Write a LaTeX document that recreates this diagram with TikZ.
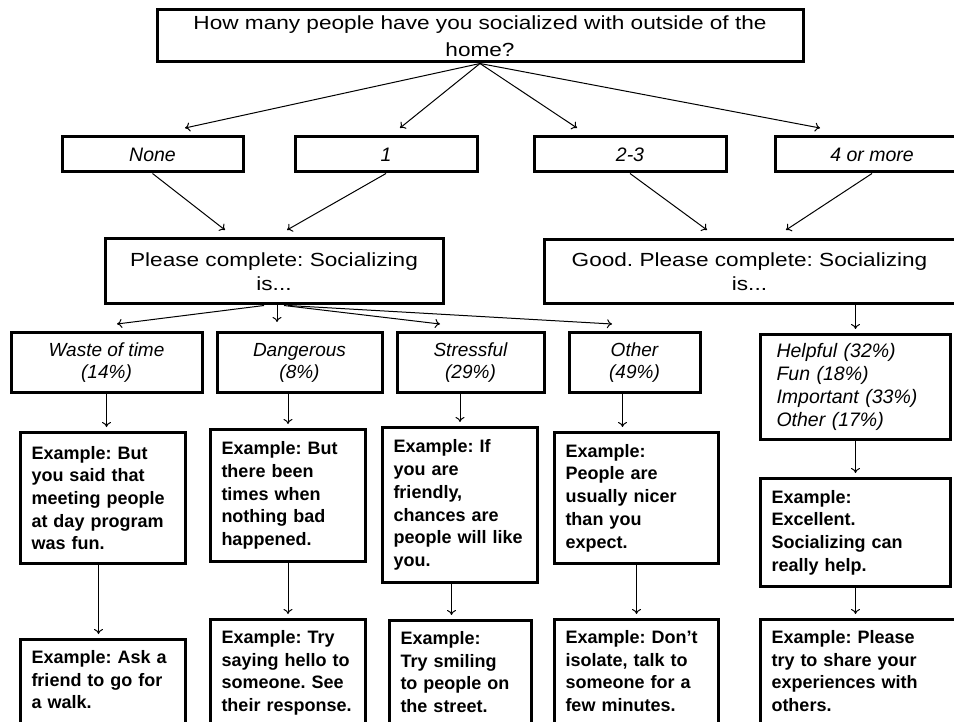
\documentclass[tikz,border=0pt]{standalone}
\usepackage{fontspec}
\usetikzlibrary{arrows.meta}
\setmainfont{Liberation Sans}
\newfontfamily\widefont{Liberation Sans}[FakeStretch=1.19]
\frenchspacing

\begin{document}
\begin{tikzpicture}[x=1pt,y=-1pt,>={To[length=5pt,width=9pt]}]
\tikzstyle{every node}=[draw,line width=3pt,inner sep=0pt];
\tikzstyle{choice}=[minimum height=35pt,align=center,font=\itshape\fontsize{19.5}{22}\selectfont];
\tikzstyle{prompt}=[align=center,font=\widefont\fontsize{19}{24}\selectfont];
\tikzstyle{answer}=[minimum height=59pt,align=center,font=\itshape\fontsize{19}{22}\selectfont];
\tikzstyle{example}=[anchor=north west,align=left,inner xsep=11pt,inner ysep=11pt,font=\bfseries\fontsize{18}{22.7}\selectfont];
\useasboundingbox (0,0) rectangle (954,722);
\clip (0,0) rectangle (954,722);
% question and answers
\node[prompt,minimum width=646pt,minimum height=52pt,font=\widefont\fontsize{19}{27}\selectfont] (q) at (480,36) {How many people have you socialized with outside of the\\home?};
\node[choice,minimum width=181pt] (none) at (152.5,154.5) {None};
\node[choice,minimum width=182pt] (one) at (386,154.5) {1};
\node[choice,minimum width=192pt] (two) at (630,154.5) {2-3};
\node[choice,minimum width=194pt] (four) at (872,154.5) {4 or more};
\node[prompt,minimum width=338pt,minimum height=65pt] (please) at (274,271.5) {Please complete: Socializing\\is...};
\node[prompt,minimum width=411pt,minimum height=64pt] (good) at (749.5,272) {Good. Please complete: Socializing\\is...};
% completions
\node[answer,minimum width=191pt] (waste) at (106.5,362.5) {Waste of time\\(14\%)};
\node[answer,minimum width=165pt] (danger) at (299.5,362.5) {Dangerous\\(8\%)};
\node[answer,minimum width=147pt] (stress) at (470.5,362.5) {Stressful\\(29\%)};
\node[answer,minimum width=131pt] (other) at (634.5,362.5) {Other\\(49\%)};
\node[anchor=north west,align=left,inner xsep=16pt,text width=158pt,minimum height=105pt,font=\itshape\fontsize{19.5}{22.7}\selectfont] (goodlist) at (759,333) {Helpful (32\%)\\Fun (18\%)\\Important (33\%)\\Other (17\%)};
% replies
\node[example,text width=143pt,minimum height=131pt] (wasteex) at (19,431) {Example: But\\you said that\\meeting people\\at day program\\was fun.};
\node[example,text width=133pt,minimum height=132pt] (dangerex) at (209,428) {Example: But\\there been\\times when\\nothing bad\\happened.};
\node[example,text width=133pt,minimum height=155pt] (stressex) at (381,426) {Example: If\\you are\\friendly,\\chances are\\people will like\\you.};
\node[example,text width=142pt,minimum height=131pt] (otherex) at (553,431) {Example:\\People are\\usually nicer\\than you\\expect.};
\node[example,text width=168pt,minimum height=108pt] (goodex) at (759,477) {Example:\\Excellent.\\Socializing can\\really help.};
\node[example,text width=143pt,text depth=75pt] (wastetip) at (19,638) {Example: Ask a\\friend to go for\\a walk.};
\node[example,text width=133pt,text depth=75pt] (dangertip) at (209,618) {Example: Try\\saying hello to\\someone. See\\their response.};
\node[example,text width=120pt,text depth=75pt] (stresstip) at (388,619) {Example:\\Try smiling\\to people on\\the street.};
\node[example,text width=142pt,text depth=75pt] (othertip) at (553,618) {Example: Don't\\isolate, talk to\\someone for a\\few minutes.};
\node[example,text width=178pt,text depth=75pt] (goodtip) at (759,618) {Example: Please\\try to share your\\experiences with\\others.};
% free arrow ends
\coordinate (a1) at (185,128);
\coordinate (a2) at (400,128);
\coordinate (a3) at (577,128);
\coordinate (a4) at (820,128);
\coordinate (b1) at (225,230);
\coordinate (b2) at (287,230);
\coordinate (b3) at (707,230);
\coordinate (b4) at (786,230);
\coordinate (c1) at (117,324);
\coordinate (c2) at (277,322);
\coordinate (c3) at (440,324);
\coordinate (c4) at (612,324);
\draw[line width=1pt,every edge/.style={draw,->}]
(q.south) edge (a1) (q.south) edge (a2) (q.south) edge (a3) (q.south) edge (a4)
(none.south) edge (b1) (one.south) edge (b2)
(two.south) edge (b3) (four.south) edge (b4)
([xshift=-10pt]please.south) edge (c1) ([xshift=3pt]please.south) edge (c2)
([xshift=10pt]please.south) edge (c3) ([xshift=14pt]please.south) edge (c4);
\draw[line width=1pt,every edge/.style={draw,->,shorten >=4pt}]
(waste.south) edge (waste.south |- wasteex.north)
([xshift=-4.5pt]wasteex.south) edge ([xshift=-4.5pt]wasteex.south |- wastetip.north)
(danger.south -| dangerex) edge (dangerex.north)
(dangerex.south) edge (dangertip.north -| dangerex)
(stress.south -| stressex) edge (stressex.north)
([xshift=-8.5pt]stressex.south) edge ([xshift=-8.5pt]stressex.south |- stresstip.north)
([xshift=-12pt]other.south) edge ([xshift=-12pt]other.south |- otherex.north)
(otherex.south) edge (otherex.south |- othertip.north)
(good.south -| goodlist) edge (goodlist.north)
(goodlist.south) edge (goodex.north)
(goodex) edge (goodex |- goodtip.north);
\end{tikzpicture}
\end{document}
